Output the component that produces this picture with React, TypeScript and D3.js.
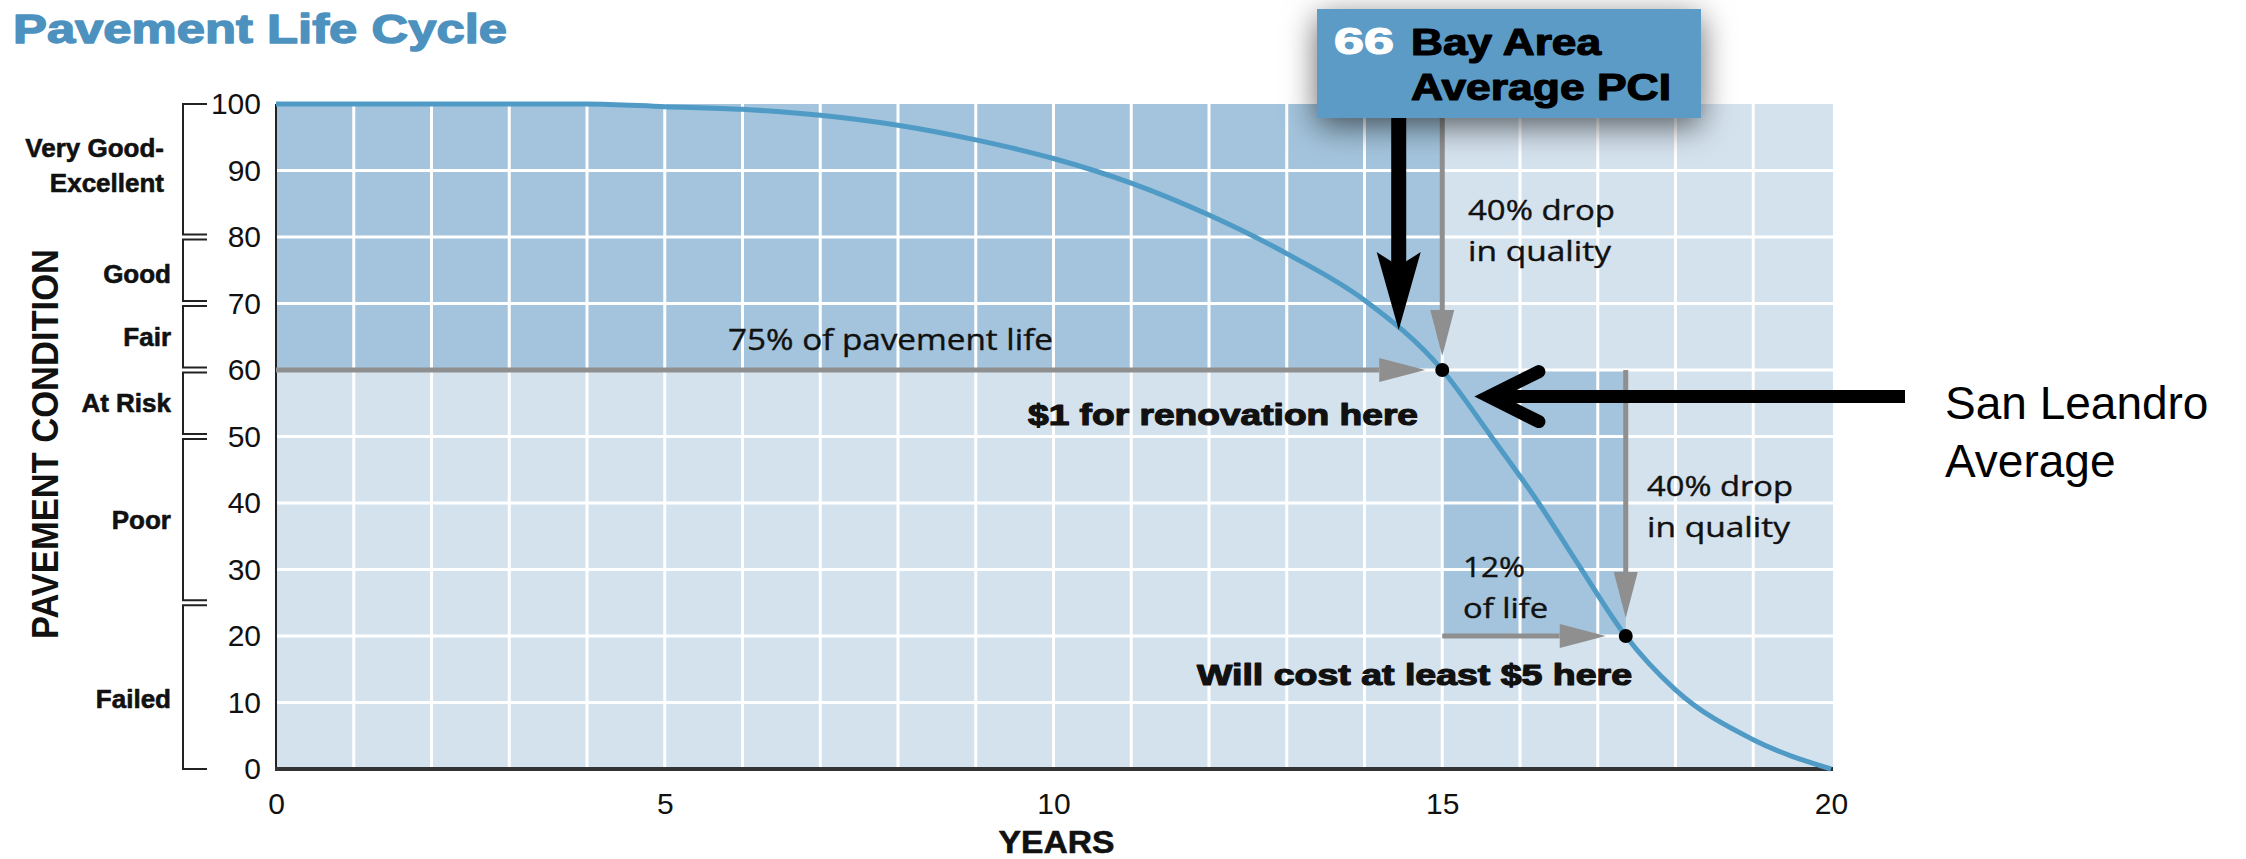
import React, { useEffect, useRef } from 'react';
import * as d3 from 'd3';

// curve
const years = [0, 1, 2, 3, 4, 5, 6, 7, 8, 9, 10, 11, 12, 13, 14, 15, 15.6, 16.24, 16.77, 17.36, 18, 19, 20];
const pci = [100, 100, 100, 100, 100, 99.6, 99.2, 98.3, 96.8, 94.6, 91.8, 88.1, 83.3, 77.5, 70.5, 60, 50.5, 40, 30.4, 20, 11.9, 4.4, 0];

const yTickValues = [0, 10, 20, 30, 40, 50, 60, 70, 80, 90, 100];
const xTickValues = [0, 5, 10, 15, 20];
const gridYears = [1, 2, 3, 4, 5, 6, 7, 8, 9, 10, 11, 12, 13, 14, 15, 16, 17, 18, 19];
const gridPci = [10, 20, 30, 40, 50, 60, 70, 80, 90];

const bandNames = [['Very Good-', 'Excellent'], ['Good'], ['Fair'], ['At Risk'], ['Poor'], ['Failed']];
const bandEdges = [100, 80, 70, 60, 50, 25, 0];
const bandLabelAt = [90, 74.5, 65, 55, 37.5, 10.5];

const renovation = { year: 15, pci: 60 };
const costPoint = { year: 17.36, pci: 20 };
const bayArea = { year: 14.44, pci: 66 };
const sanLeandro = { year: 15.6, pci: 56 };

const W = 2246;
const H = 859;

const LIGHT = '#d4e2ee';
const DARK = '#a3c4dc';
const GRAY = '#8f8f8f';
const CURVE = '#4f9bc6';
const BOX = '#5b9bc6';

const App: React.FC = () => {
  const svgRef = useRef<SVGSVGElement>(null);

  useEffect(() => {
    if (!svgRef.current) return;
    const svg = d3.select(svgRef.current);
    svg.selectAll('*').remove();

    const x = d3.scaleLinear().domain([0, 20]).range([276, 1831]);
    const y = d3.scaleLinear().domain([0, 100]).range([769, 104]);

    const defs = svg.append('defs');
    const f = defs.append('filter').attr('id', 'boxShadow')
      .attr('x', '-30%').attr('y', '-50%').attr('width', '160%').attr('height', '220%');
    f.append('feDropShadow').attr('dx', 0).attr('dy', 8).attr('stdDeviation', 16)
      .attr('flood-color', '#000').attr('flood-opacity', 0.6);

    const txt = (
      parent: any, s: string, tx: number, ty: number,
      o: { size: number; weight?: number; family?: string; anchor?: string; fill?: string; len?: number; heavy?: number }
    ) => {
      const fill = o.fill || '#111';
      const t = parent.append('text')
        .attr('x', tx).attr('y', ty)
        .attr('font-family', o.family || 'Liberation Sans, Arial, sans-serif')
        .attr('font-size', o.size)
        .attr('font-weight', o.weight || 400)
        .attr('text-anchor', o.anchor || 'start')
        .attr('fill', fill)
        .text(s);
      if (o.len) t.attr('textLength', o.len).attr('lengthAdjust', 'spacingAndGlyphs');
      if (o.heavy) t.attr('stroke', fill).attr('stroke-width', o.heavy).attr('stroke-linejoin', 'round');
      return t;
    };

    // title
    txt(svg, 'Pavement Life Cycle', 13, 43, { size: 40, weight: 700, fill: '#4d92bf', len: 494, heavy: 1.4 });

    // backgrounds
    const plot = svg.append('g');
    plot.append('rect').attr('x', x(0)).attr('y', y(100))
      .attr('width', x(20) + 2 - x(0)).attr('height', y(0) - y(100)).attr('fill', LIGHT);
    plot.append('rect').attr('x', x(0)).attr('y', y(100))
      .attr('width', x(renovation.year) - x(0)).attr('height', y(renovation.pci) - y(100)).attr('fill', DARK);
    plot.append('rect').attr('x', x(renovation.year)).attr('y', y(renovation.pci))
      .attr('width', x(costPoint.year) - x(renovation.year)).attr('height', y(costPoint.pci) - y(renovation.pci))
      .attr('fill', DARK);

    // grid
    plot.selectAll('.gx').data(gridYears).enter().append('line')
      .attr('x1', d => x(d)).attr('x2', d => x(d)).attr('y1', y(100)).attr('y2', y(0))
      .attr('stroke', '#fff').attr('stroke-width', 3);
    plot.selectAll('.gy').data(gridPci).enter().append('line')
      .attr('x1', x(0)).attr('x2', x(20) + 2).attr('y1', d => y(d)).attr('y2', d => y(d))
      .attr('stroke', '#fff').attr('stroke-width', 3);

    // axis frame
    plot.append('line').attr('x1', x(0)).attr('x2', x(0)).attr('y1', y(100)).attr('y2', y(0))
      .attr('stroke', '#222').attr('stroke-width', 2);
    plot.append('line').attr('x1', x(0) - 1).attr('x2', x(20) + 2).attr('y1', y(0)).attr('y2', y(0))
      .attr('stroke', '#333').attr('stroke-width', 4);

    // gray arrows
    const grayArrow = (x1: number, y1: number, x2: number, y2: number) => {
      const len = Math.hypot(x2 - x1, y2 - y1);
      const ux = (x2 - x1) / len, uy = (y2 - y1) / len;
      const hl = 46, hw = 12;
      const bx = x2 - ux * hl, by = y2 - uy * hl;
      plot.append('line').attr('x1', x1).attr('y1', y1).attr('x2', bx).attr('y2', by)
        .attr('stroke', GRAY).attr('stroke-width', 5);
      plot.append('path')
        .attr('d', `M${x2},${y2}L${bx - uy * hw},${by + ux * hw}L${bx + uy * hw},${by - ux * hw}Z`)
        .attr('fill', GRAY);
    };
    grayArrow(x(0), y(renovation.pci), x(renovation.year) - 17, y(renovation.pci));
    grayArrow(x(renovation.year), 118, x(renovation.year), y(renovation.pci) - 14);
    grayArrow(x(renovation.year), y(costPoint.pci), x(costPoint.year) - 20, y(costPoint.pci));
    grayArrow(x(costPoint.year), y(renovation.pci), x(costPoint.year), y(costPoint.pci) - 18);

    // curve
    const line = d3.line<number>()
      .x((_, i) => x(years[i]))
      .y(d => y(d))
      .curve(d3.curveMonotoneX);
    plot.append('path').attr('d', line(pci) as string)
      .attr('fill', 'none').attr('stroke', CURVE).attr('stroke-width', 5);

    // key points
    [renovation, costPoint].forEach(p => {
      plot.append('circle').attr('cx', x(p.year)).attr('cy', y(p.pci)).attr('r', 7).attr('fill', '#000');
    });

    // black arrow from the Bay Area box
    const cx = x(bayArea.year);
    const tip = y(bayArea.pci);
    plot.append('rect').attr('x', cx - 7.5).attr('y', 112).attr('width', 15).attr('height', tip - 62 - 112)
      .attr('fill', '#000');
    plot.append('path')
      .attr('d', `M${cx},${tip}L${cx - 22},${tip - 78}L${cx},${tip - 64}L${cx + 22},${tip - 78}Z`)
      .attr('fill', '#000');

    // black arrow for San Leandro
    const sx = x(sanLeandro.year);
    const sy = y(sanLeandro.pci);
    plot.append('line').attr('x1', sx + 6).attr('x2', 1905).attr('y1', sy).attr('y2', sy)
      .attr('stroke', '#000').attr('stroke-width', 13);
    plot.append('path').attr('d', `M${sx + 50},${sy - 25}L${sx},${sy}L${sx + 50},${sy + 25}`)
      .attr('fill', 'none').attr('stroke', '#000').attr('stroke-width', 13)
      .attr('stroke-linecap', 'round').attr('stroke-linejoin', 'miter');

    // annotation texts
    const ann = 'Open Sans, DejaVu Sans, sans-serif';
    txt(plot, '75% of pavement life', 728, 350, { size: 29, family: ann, len: 325, heavy: 0.4 });
    txt(plot, '40% drop', 1468, 220, { size: 27, family: ann, len: 147, heavy: 0.4 });
    txt(plot, 'in quality', 1468, 261, { size: 27, family: ann, len: 143, heavy: 0.4 });
    txt(plot, '$1 for renovation here', 1418, 425, { size: 30, weight: 700, anchor: 'end', len: 390, heavy: 1.2 });
    txt(plot, '40% drop', 1647, 496, { size: 27, family: ann, len: 146, heavy: 0.4 });
    txt(plot, 'in quality', 1647, 537, { size: 27, family: ann, len: 143, heavy: 0.4 });
    txt(plot, '12%', 1463, 577, { size: 27, family: ann, len: 62, heavy: 0.4 });
    txt(plot, 'of life', 1463, 618, { size: 27, family: ann, len: 85, heavy: 0.4 });
    txt(plot, 'Will cost at least $5 here', 1197, 685, { size: 29, weight: 700, len: 435, heavy: 1.2 });
    txt(svg, 'San Leandro', 1945, 419, { size: 46, fill: '#000' });
    txt(svg, 'Average', 1945, 477, { size: 46, fill: '#000' });

    // Bay Area box
    const box = svg.append('g');
    box.append('rect').attr('x', 1317).attr('y', 9).attr('width', 384).attr('height', 109)
      .attr('fill', BOX).attr('filter', 'url(#boxShadow)');
    txt(box, String(bayArea.pci), 1334, 54, { size: 36, weight: 700, fill: '#fff', len: 60, heavy: 1.2 });
    txt(box, 'Bay Area', 1411, 55, { size: 36, weight: 700, fill: '#000', len: 190, heavy: 1.2 });
    txt(box, 'Average PCI', 1411, 100, { size: 36, weight: 700, fill: '#000', len: 260, heavy: 1.2 });

    // y axis ticks
    const yAxis = svg.append('g').attr('transform', `translate(${x(0)},0)`)
      .call(d3.axisLeft(y).tickValues(yTickValues).tickSize(0).tickPadding(15).tickFormat(d3.format('d')));
    yAxis.select('.domain').remove();
    yAxis.selectAll('text').attr('font-family', 'Liberation Sans, Arial, sans-serif')
      .attr('font-size', 30).attr('fill', '#111');

    // x axis ticks
    const xAxis = svg.append('g').attr('transform', `translate(0,${y(0)})`)
      .call(d3.axisBottom(x).tickValues(xTickValues).tickSize(0).tickPadding(24).tickFormat(d3.format('d')));
    xAxis.select('.domain').remove();
    xAxis.selectAll('text').attr('font-family', 'Liberation Sans, Arial, sans-serif')
      .attr('font-size', 30).attr('fill', '#111');

    txt(svg, 'YEARS', x(10) + 3, 853, { size: 32, weight: 700, anchor: 'middle', len: 116, heavy: 0.6 });

    // condition bands
    bandNames.forEach((names, i) => {
      const top = y(bandEdges[i]) + (i === 0 ? 0 : 2.5);
      const bot = y(bandEdges[i + 1]) - (i === bandNames.length - 1 ? 0 : 2.5);
      svg.append('path').attr('d', `M207,${top}H183V${bot}H207`)
        .attr('fill', 'none').attr('stroke', '#222').attr('stroke-width', 2);
      const cy = y(bandLabelAt[i]);
      if (names.length === 2) {
        txt(svg, names[0], 164, cy - 13.5, { size: 26, weight: 700, anchor: 'end', heavy: 0.6 });
        txt(svg, names[1], 164, cy + 21.5, { size: 26, weight: 700, anchor: 'end', heavy: 0.6 });
      } else {
        txt(svg, names[0], 171, cy + 9, { size: 26, weight: 700, anchor: 'end', heavy: 0.6 });
      }
    });

    svg.append('text')
      .attr('transform', 'translate(58,444) rotate(-90)')
      .attr('text-anchor', 'middle')
      .attr('font-family', 'Liberation Sans, Arial, sans-serif')
      .attr('font-size', 36).attr('font-weight', 700).attr('fill', '#111')
      .attr('textLength', 390).attr('lengthAdjust', 'spacingAndGlyphs')
      .text('PAVEMENT CONDITION');
  }, []);

  return (
    <svg
      ref={svgRef}
      width={W}
      height={H}
      style={{ position: 'absolute', left: 0, top: 0, background: '#fff', display: 'block' }}
    />
  );
};

export default App;
